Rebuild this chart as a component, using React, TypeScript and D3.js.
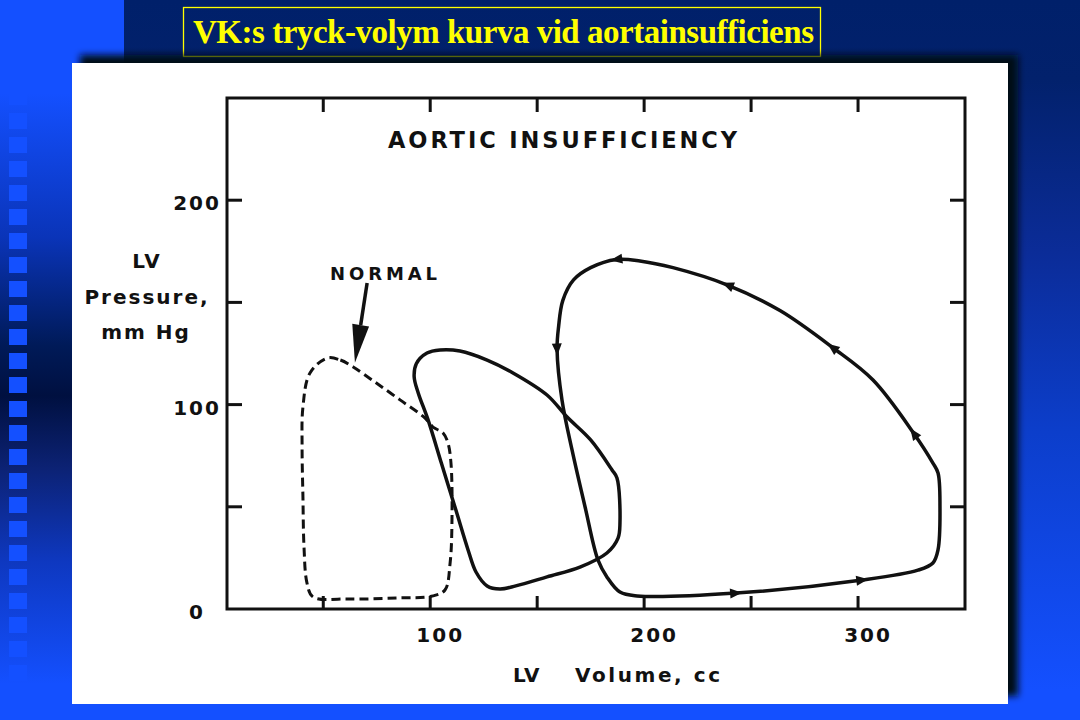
import React, { useEffect } from 'react';
import * as d3 from 'd3';

const W = 1080;
const H = 720;

// ---- axis ticks ----
const xTicks = [50, 100, 150, 200, 250, 300];
const xTickLabels = [100, 200, 300];
const yTicks = [50, 100, 150, 200];
const yTickLabels = [0, 100, 200];

// ---- NORMAL loop (dashed) ----
const normalVolume = [52, 58, 64, 74.2, 85.9, 97.6, 101.3, 106, 108.3, 109.7, 110.2, 109.3, 106.9, 101.3, 84.5, 61, 45.2, 42.4, 41, 40.5, 40.1, 40.5, 43.8];
const normalPressure = [122.8, 121.8, 118.4, 111, 102.3, 93.4, 89, 86.1, 81.2, 71.4, 47, 22.5, 9.3, 6.4, 5.4, 4.9, 5.9, 12.7, 30.3, 54.8, 79.3, 98.8, 115.5];

// ---- moderate aortic insufficiency loop ----
const moderateVolume = [98.5, 104.6, 113.9, 126.6, 138.7, 154.6, 164, 175, 185, 187.3, 188.7, 187.8, 182.6, 170, 154.6, 140, 132.6, 126.6, 121.4, 117.7, 112, 105.2, 99, 94.4, 92.5, 93.5];
const moderatePressure = [125.2, 126.7, 126.2, 121.8, 115.5, 104.7, 93.9, 82.7, 68, 64.1, 42.1, 34.7, 27.4, 20.5, 15.7, 11.3, 9.8, 11.3, 18.1, 28.9, 48.4, 71.4, 92.5, 105.7, 113.5, 120];

// ---- severe aortic insufficiency loop ----
const severeVolume = [187, 175, 167, 162, 160, 159.3, 161.6, 166.3, 172.4, 178.4, 182.6, 188.7, 196.7, 243, 302, 328, 335, 337.4, 338.3, 337.4, 335, 326, 307, 288, 263.5, 239, 213.5, 198];
const severePressure = [171, 167, 161, 151, 138, 127, 102.3, 77.8, 49.9, 24, 15.7, 8.3, 6.4, 7.8, 14.2, 19, 22.5, 29, 50, 66.5, 71.4, 86, 112, 128, 146, 158.5, 167, 170.3];
const severeArrowIdx = [0, 5, 13, 14, 21, 23, 25];

// ---- "NORMAL" pointer (volume, pressure) ----
const pointerTail = [70.5, 159.5];
const pointerTip = [64.8, 120.5];

const FONT = "'DejaVu Sans', sans-serif";

export default function App() {
  useEffect(() => {
    document.body.style.margin = '0';
  }, []);

  const frame = { left: 227, right: 965, top: 98, bottom: 609 };
  const x = d3.scaleLinear().domain([5, 350]).range([frame.left, frame.right]);
  const y = d3.scaleLinear().domain([0, 250]).range([frame.bottom, frame.top]);

  const loop = d3
    .line<[number, number]>()
    .x((d) => x(d[0]))
    .y((d) => y(d[1]))
    .curve(d3.curveCatmullRomClosed.alpha(0.5));

  const zip = (a: number[], b: number[]) => a.map((v, i) => [v, b[i]] as [number, number]);
  const normal = zip(normalVolume, normalPressure);
  const moderate = zip(moderateVolume, moderatePressure);
  const severe = zip(severeVolume, severePressure);

  const arrows = severeArrowIdx.map((i) => {
    const n = severe.length;
    const p = severe[i];
    const a = severe[(i - 1 + n) % n];
    const b = severe[(i + 1) % n];
    const ang = (Math.atan2(y(b[1]) - y(a[1]), x(b[0]) - x(a[0])) * 180) / Math.PI;
    return { cx: x(p[0]), cy: y(p[1]), ang };
  });

  // pointer arrow
  const tx = x(pointerTail[0]);
  const ty = y(pointerTail[1]);
  const hx = x(pointerTip[0]);
  const hy = y(pointerTip[1]);
  const pAng = Math.atan2(hy - ty, hx - tx);
  const headLen = 38;
  const headHalf = 8.5;
  const bx = hx - headLen * Math.cos(pAng);
  const by = hy - headLen * Math.sin(pAng);
  const nx = -Math.sin(pAng);
  const ny = Math.cos(pAng);

  const squares = d3.range(17, 690, 24);

  return (
    <svg width={W} height={H} style={{ display: 'block', position: 'absolute', left: 0, top: 0 }}>
      <defs>
        <linearGradient id="bgMain" x1="0" y1="0" x2="0" y2="1">
          <stop offset="0" stopColor="#00206a" />
          <stop offset="0.11" stopColor="#02216c" />
          <stop offset="0.35" stopColor="#0b2c98" />
          <stop offset="0.6" stopColor="#0c3ecb" />
          <stop offset="0.96" stopColor="#1450ff" />
          <stop offset="1" stopColor="#1450ff" />
        </linearGradient>
        <linearGradient id="bgLeft" x1="0" y1="0" x2="0" y2="1">
          <stop offset="0" stopColor="#1450ff" />
          <stop offset="0.13" stopColor="#1450ff" />
          <stop offset="0.33" stopColor="#0a34b8" />
          <stop offset="0.48" stopColor="#001a58" />
          <stop offset="0.55" stopColor="#001040" />
          <stop offset="0.65" stopColor="#0c2274" />
          <stop offset="0.78" stopColor="#0e38c0" />
          <stop offset="0.95" stopColor="#1450ff" />
          <stop offset="1" stopColor="#1450ff" />
        </linearGradient>
        <filter id="shadow" x="-5%" y="-5%" width="110%" height="110%">
          <feGaussianBlur stdDeviation="3.5" />
        </filter>
      </defs>

      {/* slide background */}
      <rect x={0} y={0} width={W} height={H} fill="url(#bgMain)" />
      <rect x={0} y={0} width={124} height={H} fill="url(#bgLeft)" />
      {squares.map((sy) => (
        <rect key={sy} x={9} y={sy} width={18} height={16} fill="#1450ff" />
      ))}

      {/* title */}
      <rect x={183.5} y={7.5} width={637} height={49} fill="none" stroke="#ffff00" strokeWidth={1.3} />
      <text
        x={193}
        y={43}
        fill="#ffff00"
        fontFamily="'Liberation Serif', 'Times New Roman', serif"
        fontWeight="bold"
        fontSize={33}
        textLength={621}
        lengthAdjust="spacing"
      >
        VK:s tryck-volym kurva vid aortainsufficiens
      </text>

      {/* panel shadow + panel */}
      <rect x={80} y={55} width={938} height={641} fill="#000814" filter="url(#shadow)" />
      <rect x={72} y={63} width={936} height={641} fill="#ffffff" />

      {/* frame */}
      <rect
        x={frame.left}
        y={frame.top}
        width={frame.right - frame.left}
        height={frame.bottom - frame.top}
        fill="none"
        stroke="#111"
        strokeWidth={3}
      />
      {xTicks.map((t) => (
        <g key={'xt' + t} stroke="#111" strokeWidth={3}>
          <line x1={x(t)} x2={x(t)} y1={frame.bottom} y2={frame.bottom - 13} />
          <line x1={x(t)} x2={x(t)} y1={frame.top} y2={frame.top + 14} />
        </g>
      ))}
      {yTicks.map((t) => (
        <g key={'yt' + t} stroke="#111" strokeWidth={3}>
          <line x1={frame.left} x2={frame.left + 15} y1={y(t)} y2={y(t)} />
          <line x1={frame.right} x2={frame.right - 15} y1={y(t)} y2={y(t)} />
        </g>
      ))}

      {/* tick labels */}
      {yTickLabels.map((t) => (
        <text
          key={'yl' + t}
          x={197}
          y={y(t) + 3}
          textAnchor="middle"
          dominantBaseline="central"
          fontFamily={FONT}
          fontWeight="bold"
          fontSize={20}
          letterSpacing={2}
          fill="#111"
        >
          {t}
        </text>
      ))}
      {xTickLabels.map((t) => (
        <text
          key={'xl' + t}
          x={x(t) + 10}
          y={642}
          textAnchor="middle"
          fontFamily={FONT}
          fontWeight="bold"
          fontSize={20}
          letterSpacing={2}
          fill="#111"
        >
          {t}
        </text>
      ))}

      {/* axis titles */}
      <g fontFamily={FONT} fontWeight="bold" fill="#111" fontSize={20} textAnchor="middle">
        <text x={147} y={268} letterSpacing={2}>LV</text>
        <text x={147} y={304} letterSpacing={2}>Pressure,</text>
        <text x={146} y={339} letterSpacing={2}>mm Hg</text>
      </g>
      <g fontFamily={FONT} fontWeight="bold" fill="#111" fontSize={20}>
        <text x={513} y={682} letterSpacing={1}>LV</text>
        <text x={575} y={682} textLength={145} lengthAdjust="spacing">Volume, cc</text>
      </g>

      {/* plot title & annotation */}
      <text
        x={388}
        y={148}
        fontFamily={FONT}
        fontWeight="bold"
        fontSize={22.5}
        fill="#111"
        textLength={349}
        lengthAdjust="spacing"
      >
        AORTIC  INSUFFICIENCY
      </text>
      <text
        x={330}
        y={280}
        fontFamily={FONT}
        fontWeight="bold"
        fontSize={18}
        fill="#111"
        textLength={107}
        lengthAdjust="spacing"
      >
        NORMAL
      </text>
      <line x1={tx} y1={ty} x2={bx} y2={by} stroke="#111" strokeWidth={3.5} />
      <polygon
        points={`${hx},${hy} ${bx + nx * headHalf},${by + ny * headHalf} ${bx - nx * headHalf},${by - ny * headHalf}`}
        fill="#111"
      />

      {/* loops */}
      <path d={loop(normal) || ''} fill="none" stroke="#111" strokeWidth={3} strokeDasharray="9 5" />
      <path d={loop(moderate) || ''} fill="none" stroke="#111" strokeWidth={3.5} strokeLinejoin="round" />
      <path d={loop(severe) || ''} fill="none" stroke="#111" strokeWidth={3.5} strokeLinejoin="round" />
      {arrows.map((a, i) => (
        <polygon
          key={'ar' + i}
          points="6,0 -6,-5 -6,5"
          fill="#111"
          transform={`translate(${a.cx},${a.cy}) rotate(${a.ang})`}
        />
      ))}
    </svg>
  );
}
